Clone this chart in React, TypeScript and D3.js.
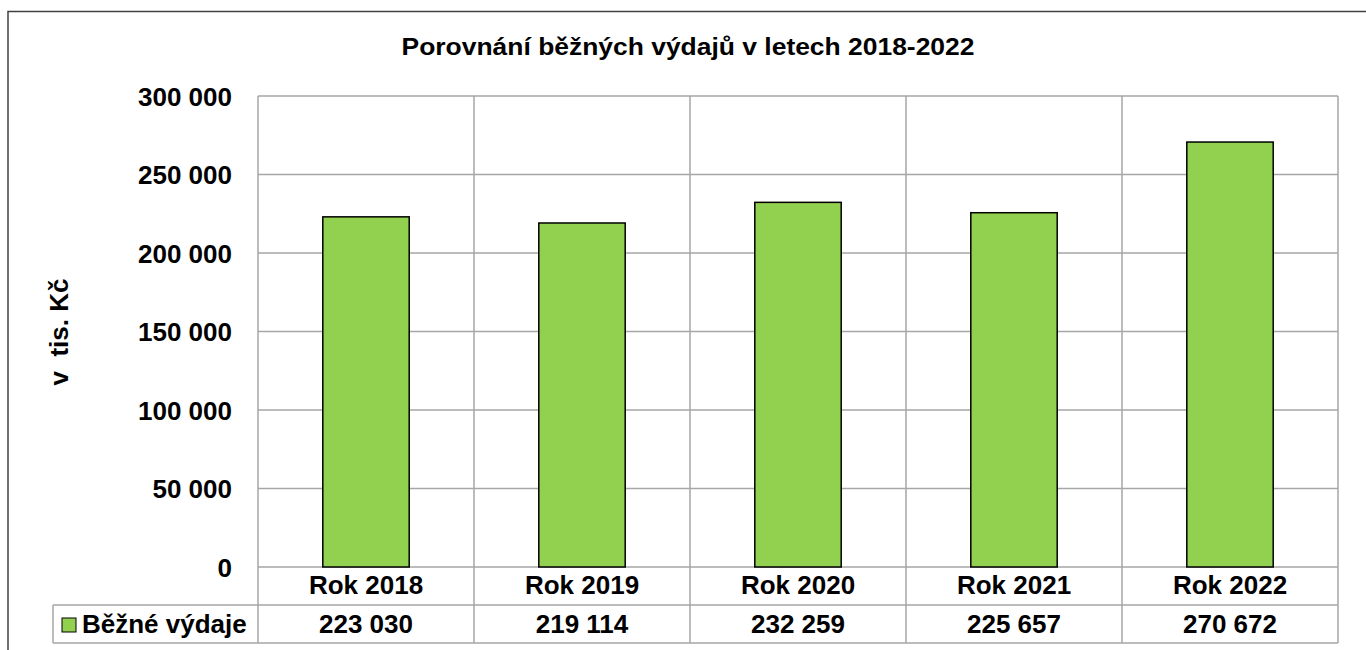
import React from 'react';
import * as d3 from 'd3';

const categories = ['Rok 2018', 'Rok 2019', 'Rok 2020', 'Rok 2021', 'Rok 2022'];
const values = [223030, 219114, 232259, 225657, 270672];
const yTicks = [0, 50000, 100000, 150000, 200000, 250000, 300000];
const seriesName = 'Běžné výdaje';
const title = 'Porovnání běžných výdajů v letech 2018-2022';
const yLabel = 'v  tis. Kč';

const W = 1366, H = 650;
const plot = { left: 258, right: 1338, top: 96, bottom: 567 };
const rowH = 38;
const legendLeft = 53;
const grid = '#a6a6a6';
const font = 'Liberation Sans, Arial, sans-serif';

// numbers like "223 030"
const fmt = (v: number) => d3.format(',')(v).replace(/,/g, ' ');

export default function App() {
  const x = d3.scaleBand().domain(categories).range([plot.left, plot.right]);
  const y = d3.scaleLinear().domain([0, 300000]).range([plot.bottom, plot.top]);
  const barW = x.bandwidth() * 0.4;
  const tableBottom = plot.bottom + rowH * 2;

  return (
    <svg width={W} height={H} style={{ position: 'absolute', left: 0, top: 0, background: '#fff' }} fontFamily={font}>
      {/* outer frame */}
      <rect x={8} y={11.5} width={W + 20} height={H + 20} fill="#fff" stroke="#404040" strokeWidth={1.5} />

      {/* title is a bit wider than the font gives, stretch horizontally */}
      <text transform="translate(688, 55) scale(1.15, 1)" textAnchor="middle" fontSize={23} fontWeight="bold">{title}</text>

      {/* horizontal grid */}
      {yTicks.map((t) => (
        <g key={t}>
          <line x1={plot.left} x2={plot.right} y1={y(t)} y2={y(t)} stroke={grid} strokeWidth={1.5} />
          <text x={232} y={y(t) + 9.5} textAnchor="end" fontSize={26} fontWeight="bold">{fmt(t)}</text>
        </g>
      ))}

      {/* vertical lines between categories, through plot and table */}
      {categories.map((c) => (
        <line key={c} x1={x(c)!} x2={x(c)!} y1={plot.top} y2={tableBottom} stroke={grid} strokeWidth={1.5} />
      ))}
      <line x1={plot.right} x2={plot.right} y1={plot.top} y2={tableBottom} stroke={grid} strokeWidth={1.5} />

      {/* table rows */}
      <line x1={legendLeft} x2={plot.right} y1={plot.bottom + rowH} y2={plot.bottom + rowH} stroke={grid} strokeWidth={1.5} />
      <line x1={legendLeft} x2={plot.right} y1={tableBottom} y2={tableBottom} stroke={grid} strokeWidth={1.5} />
      <line x1={legendLeft} x2={legendLeft} y1={plot.bottom + rowH} y2={tableBottom} stroke={grid} strokeWidth={1.5} />

      {/* bars */}
      {categories.map((c, i) => (
        <rect key={c} x={x(c)! + (x.bandwidth() - barW) / 2} y={y(values[i])} width={barW}
          height={y(0) - y(values[i])} fill="#92d050" stroke="#000" strokeWidth={1.5} />
      ))}

      {/* category labels + values */}
      {categories.map((c, i) => (
        <g key={c}>
          <text x={x(c)! + x.bandwidth() / 2} y={594} textAnchor="middle" fontSize={26} fontWeight="bold">{c}</text>
          <text x={x(c)! + x.bandwidth() / 2} y={633} textAnchor="middle" fontSize={26} fontWeight="bold">{fmt(values[i])}</text>
        </g>
      ))}

      {/* legend key */}
      <rect x={62} y={618} width={14} height={14} fill="#92d050" stroke="#000" strokeWidth={1} />
      <text x={82} y={633} fontSize={26} fontWeight="bold">{seriesName}</text>

      <text transform={`translate(68, 332) rotate(-90)`} textAnchor="middle" fontSize={26} fontWeight="bold" style={{ whiteSpace: 'pre' }}>{yLabel}</text>
    </svg>
  );
}
